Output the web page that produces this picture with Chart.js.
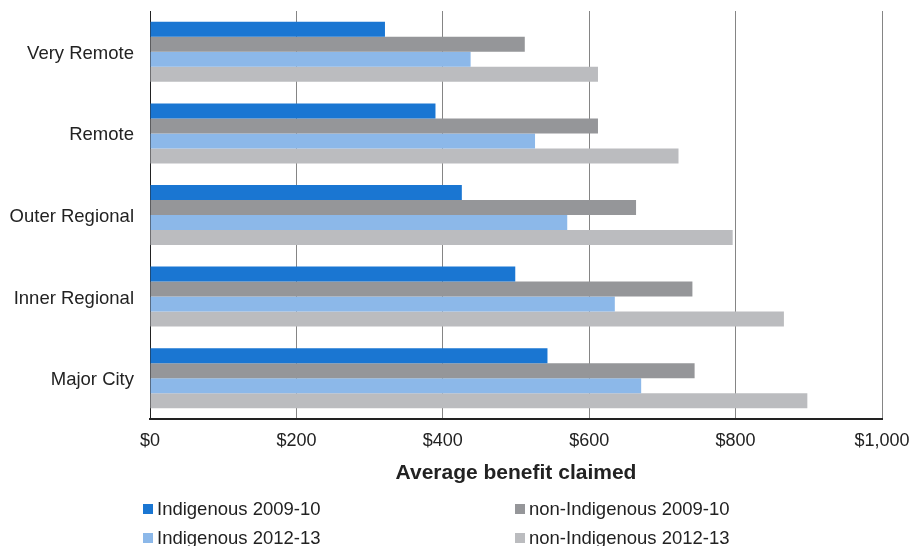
<!DOCTYPE html>
<html>
<head>
<meta charset="utf-8">
<script src="https://cdn.jsdelivr.net/npm/chart.js@4/dist/chart.umd.min.js"></script>
<style>
  html, body { margin: 0; padding: 0; background: #fff; }
  #wrap { position: relative; width: 912px; height: 546px; }
  #legend { position: absolute; left: 0; top: 0; width: 912px; height: 546px; pointer-events: none;
            font-family: "Liberation Sans", Arial, sans-serif; font-size: 18.5px; color: #222; }
  .item { position: absolute; display: flex; align-items: center; white-space: nowrap; }
  .box { width: 10px; height: 10px; margin-right: 4px; }
</style>
</head>
<body>
<div id="wrap">
  <canvas id="chart" width="912" height="546"></canvas>
  <div id="legend"></div>
</div>
<script>
// Remoteness areas, top to bottom
const categories = ['Very Remote', 'Remote', 'Outer Regional', 'Inner Regional', 'Major City'];

// Average benefit claimed ($) per remoteness area
const indigenous0910    = [321, 390, 426, 499, 543];
const nonIndigenous0910 = [512, 612, 664, 741, 744];
const indigenous1213    = [438, 526, 570, 635, 671];
const nonIndigenous1213 = [612, 722, 796, 866, 898];

const seriesNames  = ['Indigenous 2009-10', 'non-Indigenous 2009-10', 'Indigenous 2012-13', 'non-Indigenous 2012-13'];
const seriesColors = ['#1a76d2', '#959699', '#8cb8e9', '#bbbcbf'];

const xTicks = [0, 200, 400, 600, 800, 1000];
const axisTitle = 'Average benefit claimed';

const FONT = '"Liberation Sans", Arial, sans-serif';

const seriesValues = [indigenous0910, nonIndigenous0910, indigenous1213, nonIndigenous1213];
const datasets = seriesValues.map((vals, i) => ({
  label: seriesNames[i],
  data: vals,
  backgroundColor: seriesColors[i],
  borderWidth: 0,
  categoryPercentage: 0.735,
  barPercentage: 1.0
}));

const chart = new Chart(document.getElementById('chart'), {
  type: 'bar',
  data: { labels: categories, datasets },
  options: {
    indexAxis: 'y',
    responsive: false,
    animation: false,
    plugins: { legend: { display: false }, tooltip: { enabled: false } },
    layout: { padding: { top: 11, right: 30, bottom: 60, left: 0 } },
    scales: {
      x: {
        min: 0,
        max: 1000,
        afterBuildTicks: (axis) => { axis.ticks = xTicks.map(v => ({ value: v })); },
        afterFit: (axis) => {
          axis.height = 67;
          axis.paddingLeft = 0;
          axis.paddingRight = 0;
        },
        ticks: {
          padding: 11,
          color: '#222',
          font: { family: FONT, size: 18 },
          callback: (v) => '$' + Number(v).toLocaleString('en-US')
        },
        grid: { color: '#858585', lineWidth: 1, drawTicks: false },
        border: { color: '#222', width: 2 },
        title: {
          display: true,
          text: axisTitle,
          color: '#222',
          font: { family: FONT, size: 21, weight: 'bold' },
          padding: { top: 4, bottom: 0 }
        }
      },
      y: {
        afterFit: (axis) => {
          axis.width = 150;
          axis.paddingTop = 0;
          axis.paddingBottom = 0;
        },
        ticks: {
          padding: 16,
          labelOffset: 2,
          color: '#222',
          font: { family: FONT, size: 18.5 }
        },
        grid: { display: false, drawTicks: false },
        border: { color: '#222', width: 1 }
      }
    }
  }
});

// Two-column legend beneath the axis title
const legendPos = [[143, 509], [515, 509], [143, 538], [515, 538]];
const legendEl = document.getElementById('legend');
chart.data.datasets.forEach((ds, i) => {
  const item = document.createElement('div');
  item.className = 'item';
  item.style.left = legendPos[i][0] + 'px';
  item.style.top = (legendPos[i][1] - 11) + 'px';
  item.style.height = '22px';
  const box = document.createElement('span');
  box.className = 'box';
  box.style.background = ds.backgroundColor;
  const txt = document.createElement('span');
  txt.textContent = ds.label;
  item.appendChild(box);
  item.appendChild(txt);
  legendEl.appendChild(item);
});
</script>
</body>
</html>
